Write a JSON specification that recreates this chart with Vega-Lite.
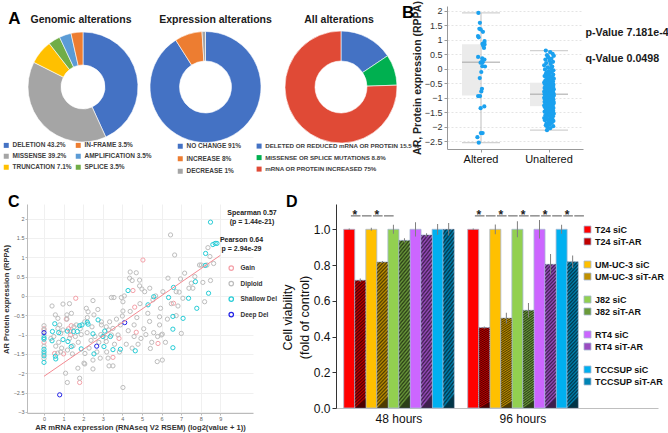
{
  "$schema": "https://vega.github.io/schema/vega-lite/v6.json",
  "padding": {"left": 2, "top": 0, "right": 0, "bottom": 0},
  "background": "white",
  "config": {
    "font": "Liberation Sans",
    "view": {"stroke": null},
    "legend": {"padding": 0},
    "title": {"color": "#1A1A1A"}
  },
  "title": {"text": "A", "anchor": "start", "frame": "bounds", "offset": 0, "baseline": "alphabetic", "dy": 40, "dx": 6, "fontSize": 17, "fontWeight": "bold", "color": "#000000"},
  "datasets": {
    "genomic": [
      {"label": "DELETION 43.2%", "pct": 43.2, "ord": 1},
      {"label": "MISSENSE 39.2%", "pct": 39.2, "ord": 2},
      {"label": "TRUNCATION 7.1%", "pct": 7.1, "ord": 3},
      {"label": "SPLICE 3.5%", "pct": 3.5, "ord": 4},
      {"label": "AMPLIFICATION 3.5%", "pct": 3.5, "ord": 5},
      {"label": "IN-FRAME 3.5%", "pct": 3.5, "ord": 6}
    ],
    "expr": [
      {"label": "NO CHANGE 91%", "pct": 91, "ord": 1},
      {"label": "INCREASE 8%", "pct": 8, "ord": 2},
      {"label": "DECREASE 1%", "pct": 1, "ord": 3}
    ],
    "allalt": [
      {"label": "DELETED OR REDUCED mRNA OR PROTEIN 15.5 %", "pct": 15.5, "ord": 1},
      {"label": "MISSENSE OR SPLICE MUTATIONS 8.8%", "pct": 8.8, "ord": 2},
      {"label": "mRNA OR PROTEIN INCREASED 75%", "pct": 75, "ord": 3}
    ],
    "bbox": [
      {"g": "Altered", "q1": -0.92, "q3": 0.85, "med": 0.23, "lo": -2.55, "hi": 1.93},
      {"g": "Unaltered", "q1": -1.29, "q3": -0.48, "med": -0.88, "lo": -2.12, "hi": 0.63}
    ],
    "bpts": [
      {"g":"Altered","v":1.93,"j":-0.65},{"g":"Altered","v":1.59,"j":-0.28},{"g":"Altered","v":1.38,"j":-0.41},{"g":"Altered","v":1.36,"j":-0.07},{"g":"Altered","v":1.28,"j":0.48},{"g":"Altered","v":1.13,"j":-0.75},{"g":"Altered","v":1.09,"j":-0.58},{"g":"Altered","v":0.96,"j":0.89},{"g":"Altered","v":0.9,"j":0.82},{"g":"Altered","v":0.86,"j":0.38},{"g":"Altered","v":0.84,"j":0.89},{"g":"Altered","v":0.8,"j":0.55},{"g":"Altered","v":0.72,"j":0.75},{"g":"Altered","v":0.41,"j":-0.72},{"g":"Altered","v":0.36,"j":0.31},{"g":"Altered","v":0.32,"j":0.86},{"g":"Altered","v":0.23,"j":0.14},{"g":"Altered","v":0.23,"j":0.41},{"g":"Altered","v":0.21,"j":-0.1},{"g":"Altered","v":0.08,"j":1.0},{"g":"Altered","v":0.09,"j":0.34},{"g":"Altered","v":-0.11,"j":0.07},{"g":"Altered","v":-0.32,"j":-0.31},{"g":"Altered","v":-0.69,"j":0.24},{"g":"Altered","v":-0.78,"j":0.07},{"g":"Altered","v":-0.94,"j":-0.72},{"g":"Altered","v":-0.94,"j":-0.24},{"g":"Altered","v":-1.3,"j":0.82},{"g":"Altered","v":-1.36,"j":-0.1},{"g":"Altered","v":-2.22,"j":-0.03},{"g":"Altered","v":-2.22,"j":0.41},{"g":"Altered","v":-2.36,"j":-0.9},{"g":"Altered","v":-2.55,"j":-0.55},
      {"g":"Unaltered","v":0.63,"j":-0.8},{"g":"Unaltered","v":0.58,"j":0.3},{"g":"Unaltered","v":0.52,"j":0.9},{"g":"Unaltered","v":0.47,"j":-0.5},{"g":"Unaltered","v":0.45,"j":1.2},{"g":"Unaltered","v":0.4,"j":-0.2},{"g":"Unaltered","v":0.35,"j":0.6},{"g":"Unaltered","v":0.32,"j":-0.9},{"g":"Unaltered","v":0.28,"j":0.1},{"g":"Unaltered","v":0.24,"j":1.0},{"g":"Unaltered","v":0.2,"j":-0.7},{"g":"Unaltered","v":0.17,"j":0.4},{"g":"Unaltered","v":0.12,"j":-1.2},{"g":"Unaltered","v":0.08,"j":0.8},{"g":"Unaltered","v":0.05,"j":-0.3},{"g":"Unaltered","v":0.02,"j":0.5},{"g":"Unaltered","v":-0.02,"j":-1.0},{"g":"Unaltered","v":-0.05,"j":1.1},{"g":"Unaltered","v":-0.08,"j":-0.1},{"g":"Unaltered","v":-0.1,"j":0.7},{"g":"Unaltered","v":-0.13,"j":-0.6},{"g":"Unaltered","v":-0.15,"j":0.2},{"g":"Unaltered","v":-0.18,"j":-0.8},{"g":"Unaltered","v":-0.2,"j":1.05},{"g":"Unaltered","v":-0.22,"j":-0.4},
      {"g":"Unaltered","v":-0.25,"j":-1.1},{"g":"Unaltered","v":-0.27,"j":0.3},{"g":"Unaltered","v":-0.3,"j":0.9},{"g":"Unaltered","v":-0.32,"j":-0.5},{"g":"Unaltered","v":-0.34,"j":1.2},{"g":"Unaltered","v":-0.36,"j":-0.2},{"g":"Unaltered","v":-0.38,"j":0.6},{"g":"Unaltered","v":-0.4,"j":-0.9},{"g":"Unaltered","v":-0.42,"j":0.1},{"g":"Unaltered","v":-0.44,"j":1.0},{"g":"Unaltered","v":-0.45,"j":-0.7},{"g":"Unaltered","v":-0.46,"j":0.4},{"g":"Unaltered","v":-0.47,"j":-1.2},{"g":"Unaltered","v":-0.49,"j":0.8},{"g":"Unaltered","v":-0.5,"j":-0.3},{"g":"Unaltered","v":-0.52,"j":0.5},{"g":"Unaltered","v":-0.53,"j":-1.0},{"g":"Unaltered","v":-0.55,"j":1.1},{"g":"Unaltered","v":-0.56,"j":-0.1},{"g":"Unaltered","v":-0.58,"j":0.7},{"g":"Unaltered","v":-0.59,"j":-0.6},{"g":"Unaltered","v":-0.6,"j":0.2},{"g":"Unaltered","v":-0.62,"j":-0.8},{"g":"Unaltered","v":-0.63,"j":1.05},{"g":"Unaltered","v":-0.64,"j":-0.4},
      {"g":"Unaltered","v":-0.66,"j":-1.1},{"g":"Unaltered","v":-0.67,"j":0.3},{"g":"Unaltered","v":-0.68,"j":0.9},{"g":"Unaltered","v":-0.7,"j":-0.5},{"g":"Unaltered","v":-0.71,"j":1.2},{"g":"Unaltered","v":-0.72,"j":-0.2},{"g":"Unaltered","v":-0.73,"j":0.6},{"g":"Unaltered","v":-0.74,"j":-0.9},{"g":"Unaltered","v":-0.75,"j":0.1},{"g":"Unaltered","v":-0.76,"j":1.0},{"g":"Unaltered","v":-0.77,"j":-0.7},{"g":"Unaltered","v":-0.78,"j":0.4},{"g":"Unaltered","v":-0.79,"j":-1.2},{"g":"Unaltered","v":-0.8,"j":0.8},{"g":"Unaltered","v":-0.81,"j":-0.3},{"g":"Unaltered","v":-0.82,"j":0.5},{"g":"Unaltered","v":-0.83,"j":-1.0},{"g":"Unaltered","v":-0.84,"j":1.1},{"g":"Unaltered","v":-0.85,"j":-0.1},{"g":"Unaltered","v":-0.85,"j":0.7},{"g":"Unaltered","v":-0.86,"j":-0.6},{"g":"Unaltered","v":-0.86,"j":0.2},{"g":"Unaltered","v":-0.87,"j":-0.8},{"g":"Unaltered","v":-0.87,"j":1.05},{"g":"Unaltered","v":-0.88,"j":-0.4},
      {"g":"Unaltered","v":-0.88,"j":-1.1},{"g":"Unaltered","v":-0.89,"j":0.3},{"g":"Unaltered","v":-0.9,"j":0.9},{"g":"Unaltered","v":-0.91,"j":-0.5},{"g":"Unaltered","v":-0.92,"j":1.2},{"g":"Unaltered","v":-0.93,"j":-0.2},{"g":"Unaltered","v":-0.94,"j":0.6},{"g":"Unaltered","v":-0.95,"j":-0.9},{"g":"Unaltered","v":-0.96,"j":0.1},{"g":"Unaltered","v":-0.97,"j":1.0},{"g":"Unaltered","v":-0.98,"j":-0.7},{"g":"Unaltered","v":-0.99,"j":0.4},{"g":"Unaltered","v":-1.0,"j":-1.2},{"g":"Unaltered","v":-1.01,"j":0.8},{"g":"Unaltered","v":-1.02,"j":-0.3},{"g":"Unaltered","v":-1.03,"j":0.5},{"g":"Unaltered","v":-1.05,"j":-1.0},{"g":"Unaltered","v":-1.06,"j":1.1},{"g":"Unaltered","v":-1.07,"j":-0.1},{"g":"Unaltered","v":-1.08,"j":0.7},{"g":"Unaltered","v":-1.09,"j":-0.6},{"g":"Unaltered","v":-1.1,"j":0.2},{"g":"Unaltered","v":-1.11,"j":-0.8},{"g":"Unaltered","v":-1.12,"j":1.05},{"g":"Unaltered","v":-1.13,"j":-0.4},
      {"g":"Unaltered","v":-1.14,"j":-1.1},{"g":"Unaltered","v":-1.15,"j":0.3},{"g":"Unaltered","v":-1.16,"j":0.9},{"g":"Unaltered","v":-1.17,"j":-0.5},{"g":"Unaltered","v":-1.18,"j":1.2},{"g":"Unaltered","v":-1.19,"j":-0.2},{"g":"Unaltered","v":-1.2,"j":0.6},{"g":"Unaltered","v":-1.21,"j":-0.9},{"g":"Unaltered","v":-1.22,"j":0.1},{"g":"Unaltered","v":-1.23,"j":1.0},{"g":"Unaltered","v":-1.24,"j":-0.7},{"g":"Unaltered","v":-1.25,"j":0.4},{"g":"Unaltered","v":-1.27,"j":-1.2},{"g":"Unaltered","v":-1.28,"j":0.8},{"g":"Unaltered","v":-1.3,"j":-0.3},{"g":"Unaltered","v":-1.32,"j":0.5},{"g":"Unaltered","v":-1.33,"j":-1.0},{"g":"Unaltered","v":-1.35,"j":1.1},{"g":"Unaltered","v":-1.36,"j":-0.1},{"g":"Unaltered","v":-1.38,"j":0.7},{"g":"Unaltered","v":-1.4,"j":-0.6},{"g":"Unaltered","v":-1.41,"j":0.2},{"g":"Unaltered","v":-1.43,"j":-0.8},{"g":"Unaltered","v":-1.45,"j":1.05},{"g":"Unaltered","v":-1.46,"j":-0.4},
      {"g":"Unaltered","v":-1.48,"j":-1.1},{"g":"Unaltered","v":-1.5,"j":0.3},{"g":"Unaltered","v":-1.52,"j":0.9},{"g":"Unaltered","v":-1.53,"j":-0.5},{"g":"Unaltered","v":-1.55,"j":1.2},{"g":"Unaltered","v":-1.57,"j":-0.2},{"g":"Unaltered","v":-1.58,"j":0.6},{"g":"Unaltered","v":-1.6,"j":-0.9},{"g":"Unaltered","v":-1.62,"j":0.1},{"g":"Unaltered","v":-1.64,"j":1.0},{"g":"Unaltered","v":-1.66,"j":-0.7},{"g":"Unaltered","v":-1.68,"j":0.4},{"g":"Unaltered","v":-1.7,"j":-1.2},{"g":"Unaltered","v":-1.72,"j":0.8},{"g":"Unaltered","v":-1.74,"j":-0.3},{"g":"Unaltered","v":-1.76,"j":0.5},{"g":"Unaltered","v":-1.78,"j":-1.0},{"g":"Unaltered","v":-1.8,"j":1.1},{"g":"Unaltered","v":-1.83,"j":-0.1},{"g":"Unaltered","v":-1.86,"j":0.7},{"g":"Unaltered","v":-1.89,"j":-0.6},{"g":"Unaltered","v":-1.92,"j":0.2},{"g":"Unaltered","v":-1.95,"j":-0.8},{"g":"Unaltered","v":-1.98,"j":1.05},{"g":"Unaltered","v":-2.01,"j":-0.4},{"g":"Unaltered","v":-2.05,"j":0.3},{"g":"Unaltered","v":-2.12,"j":-0.5}
    ],
    "scatter": [
      {"x":0,"y":-0.85,"c":"Gain"},{"x":0,"y":-1.2,"c":"Gain"},{"x":1.62,"y":-0.06,"c":"Gain"},{"x":1.39,"y":-0.77,"c":"Gain"},{"x":1.36,"y":-1.01,"c":"Gain"},{"x":1.34,"y":-0.91,"c":"Gain"},{"x":0.54,"y":-1.49,"c":"Gain"},{"x":1.14,"y":-0.6,"c":"Gain"},{"x":1.0,"y":-1.5,"c":"Gain"},{"x":1.82,"y":-2.24,"c":"Gain"},{"x":3.83,"y":-1.1,"c":"Gain"},{"x":3.52,"y":-1.59,"c":"Gain"},{"x":4.54,"y":0.14,"c":"Gain"},{"x":4.63,"y":-0.29,"c":"Gain"},{"x":4.71,"y":-0.94,"c":"Gain"},{"x":5.05,"y":0.93,"c":"Gain"},{"x":5.82,"y":-1.23,"c":"Gain"},{"x":6.61,"y":-0.19,"c":"Gain"},{"x":1.25,"y":-0.85,"c":"Gain"},
      {"x":0,"y":-0.77,"c":"Diploid"},{"x":0,"y":-0.88,"c":"Diploid"},{"x":0,"y":-1.02,"c":"Diploid"},{"x":0,"y":-1.3,"c":"Diploid"},{"x":0,"y":-1.5,"c":"Diploid"},{"x":0,"y":-1.62,"c":"Diploid"},
      {"x":0.41,"y":-0.26,"c":"Diploid"},{"x":0.58,"y":-0.49,"c":"Diploid"},{"x":0.71,"y":-0.58,"c":"Diploid"},{"x":0.71,"y":-0.84,"c":"Diploid"},{"x":0.85,"y":-0.97,"c":"Diploid"},{"x":0.97,"y":-0.88,"c":"Diploid"},{"x":0.97,"y":-0.21,"c":"Diploid"},{"x":0.5,"y":-1.05,"c":"Diploid"},{"x":0.6,"y":-1.3,"c":"Diploid"},{"x":0.75,"y":-1.2,"c":"Diploid"},{"x":0.85,"y":-1.45,"c":"Diploid"},{"x":0.9,"y":-1.35,"c":"Diploid"},{"x":0.7,"y":-1.48,"c":"Diploid"},{"x":0.35,"y":-1.1,"c":"Diploid"},{"x":0.8,"y":-0.75,"c":"Diploid"},
      {"x":1.17,"y":-0.49,"c":"Diploid"},{"x":1.17,"y":-0.6,"c":"Diploid"},{"x":1.53,"y":-0.8,"c":"Diploid"},{"x":1.65,"y":-0.75,"c":"Diploid"},{"x":1.1,"y":-2.0,"c":"Diploid"},{"x":1.19,"y":-2.24,"c":"Diploid"},{"x":1.82,"y":-2.13,"c":"Diploid"},{"x":1.73,"y":-1.87,"c":"Diploid"},{"x":2.04,"y":-1.74,"c":"Diploid"},{"x":2.09,"y":-1.49,"c":"Diploid"},{"x":1.48,"y":-1.29,"c":"Diploid"},{"x":1.3,"y":-1.1,"c":"Diploid"},{"x":1.6,"y":-1.05,"c":"Diploid"},{"x":1.45,"y":-1.5,"c":"Diploid"},{"x":1.2,"y":-1.4,"c":"Diploid"},{"x":1.75,"y":-1.2,"c":"Diploid"},{"x":1.9,"y":-1.0,"c":"Diploid"},{"x":1.85,"y":-0.85,"c":"Diploid"},{"x":1.4,"y":-0.45,"c":"Diploid"},{"x":1.3,"y":-0.2,"c":"Diploid"},
      {"x":2.16,"y":-0.32,"c":"Diploid"},{"x":2.25,"y":-0.41,"c":"Diploid"},{"x":2.21,"y":-0.56,"c":"Diploid"},{"x":2.08,"y":-0.67,"c":"Diploid"},{"x":2.5,"y":-0.12,"c":"Diploid"},{"x":2.55,"y":-0.49,"c":"Diploid"},{"x":2.5,"y":-1.89,"c":"Diploid"},{"x":2.5,"y":-1.66,"c":"Diploid"},{"x":2.08,"y":-1.76,"c":"Diploid"},{"x":2.93,"y":-0.67,"c":"Diploid"},{"x":2.93,"y":-0.75,"c":"Diploid"},{"x":2.4,"y":-1.15,"c":"Diploid"},{"x":2.6,"y":-1.05,"c":"Diploid"},{"x":2.87,"y":-1.61,"c":"Diploid"},{"x":2.7,"y":-1.45,"c":"Diploid"},{"x":2.8,"y":-1.2,"c":"Diploid"},{"x":2.3,"y":-1.35,"c":"Diploid"},{"x":2.45,"y":-0.8,"c":"Diploid"},{"x":2.75,"y":-0.35,"c":"Diploid"},{"x":2.9,"y":-1.0,"c":"Diploid"},{"x":2.2,"y":-0.95,"c":"Diploid"},
      {"x":3.18,"y":-0.8,"c":"Diploid"},{"x":3.35,"y":-0.67,"c":"Diploid"},{"x":3.3,"y":-0.88,"c":"Diploid"},{"x":3.15,"y":-1.08,"c":"Diploid"},{"x":3.44,"y":-1.01,"c":"Diploid"},{"x":3.18,"y":-1.18,"c":"Diploid"},{"x":3.44,"y":-0.04,"c":"Diploid"},{"x":3.57,"y":-0.04,"c":"Diploid"},{"x":3.52,"y":-0.84,"c":"Diploid"},{"x":3.32,"y":-1.81,"c":"Diploid"},{"x":3.52,"y":-1.81,"c":"Diploid"},{"x":3.27,"y":-1.61,"c":"Diploid"},{"x":3.78,"y":-1.01,"c":"Diploid"},{"x":3.95,"y":-0.04,"c":"Diploid"},{"x":4.03,"y":-0.15,"c":"Diploid"},{"x":4.03,"y":-0.39,"c":"Diploid"},{"x":4.0,"y":-0.52,"c":"Diploid"},{"x":3.7,"y":-0.6,"c":"Diploid"},{"x":3.85,"y":-1.45,"c":"Diploid"},{"x":3.6,"y":-1.25,"c":"Diploid"},{"x":3.2,"y":-1.45,"c":"Diploid"},{"x":3.9,"y":-0.75,"c":"Diploid"},
      {"x":4.03,"y":-2.37,"c":"Diploid"},{"x":4.37,"y":0.46,"c":"Diploid"},{"x":4.5,"y":0.4,"c":"Diploid"},{"x":4.71,"y":0.6,"c":"Diploid"},{"x":4.4,"y":0.62,"c":"Diploid"},{"x":4.88,"y":0.41,"c":"Diploid"},{"x":4.88,"y":0.26,"c":"Diploid"},{"x":5.0,"y":0.18,"c":"Diploid"},{"x":4.74,"y":-0.56,"c":"Diploid"},{"x":4.4,"y":-0.4,"c":"Diploid"},{"x":4.95,"y":-1.1,"c":"Diploid"},{"x":5.09,"y":-0.85,"c":"Diploid"},{"x":4.8,"y":-1.25,"c":"Diploid"},{"x":4.6,"y":-1.05,"c":"Diploid"},{"x":4.5,"y":-1.35,"c":"Diploid"},{"x":4.3,"y":-0.9,"c":"Diploid"},{"x":4.2,"y":-1.25,"c":"Diploid"},{"x":4.1,"y":0.0,"c":"Diploid"},{"x":4.6,"y":-0.75,"c":"Diploid"},{"x":4.9,"y":-0.2,"c":"Diploid"},
      {"x":5.14,"y":0.11,"c":"Diploid"},{"x":5.39,"y":-0.66,"c":"Diploid"},{"x":5.43,"y":-1.36,"c":"Diploid"},{"x":5.56,"y":-0.1,"c":"Diploid"},{"x":5.3,"y":-0.45,"c":"Diploid"},{"x":5.95,"y":-0.32,"c":"Diploid"},{"x":5.9,"y":-0.54,"c":"Diploid"},{"x":6.04,"y":-0.99,"c":"Diploid"},{"x":5.9,"y":-0.75,"c":"Diploid"},{"x":5.99,"y":-1.01,"c":"Diploid"},{"x":5.78,"y":-1.7,"c":"Diploid"},{"x":6.04,"y":-1.66,"c":"Diploid"},{"x":5.8,"y":-1.05,"c":"Diploid"},{"x":5.6,"y":-0.95,"c":"Diploid"},{"x":5.5,"y":-1.2,"c":"Diploid"},{"x":6.07,"y":0.11,"c":"Diploid"},{"x":5.4,"y":0.2,"c":"Diploid"},{"x":5.7,"y":0.0,"c":"Diploid"},{"x":5.2,"y":-1.0,"c":"Diploid"},
      {"x":6.46,"y":1.58,"c":"Diploid"},{"x":6.67,"y":1.06,"c":"Diploid"},{"x":6.75,"y":0.11,"c":"Diploid"},{"x":6.97,"y":0.44,"c":"Diploid"},{"x":7.18,"y":0.59,"c":"Diploid"},{"x":6.33,"y":0.46,"c":"Diploid"},{"x":7.09,"y":-0.06,"c":"Diploid"},{"x":6.84,"y":-0.26,"c":"Diploid"},{"x":6.75,"y":-0.51,"c":"Diploid"},{"x":7.01,"y":-0.97,"c":"Diploid"},{"x":6.3,"y":-0.6,"c":"Diploid"},{"x":6.5,"y":-0.2,"c":"Diploid"},{"x":6.2,"y":-1.2,"c":"Diploid"},
      {"x":7.52,"y":0.33,"c":"Diploid"},{"x":7.6,"y":0.2,"c":"Diploid"},{"x":7.94,"y":0.8,"c":"Diploid"},{"x":8.11,"y":0.35,"c":"Diploid"},{"x":8.2,"y":-0.15,"c":"Diploid"},{"x":8.32,"y":0.8,"c":"Diploid"},{"x":8.37,"y":1.25,"c":"Diploid"},{"x":8.47,"y":1.02,"c":"Diploid"},{"x":8.66,"y":0.84,"c":"Diploid"},{"x":8.03,"y":0.8,"c":"Diploid"},{"x":7.7,"y":0.5,"c":"Diploid"},{"x":8.5,"y":0.4,"c":"Diploid"},{"x":7.4,"y":0.2,"c":"Diploid"},{"x":6.9,"y":0.1,"c":"Diploid"},
      {"x":0,"y":-1.08,"c":"Shallow Del"},{"x":0,"y":-1.12,"c":"Shallow Del"},{"x":0,"y":-1.38,"c":"Shallow Del"},{"x":0,"y":-1.45,"c":"Shallow Del"},{"x":0,"y":-1.55,"c":"Shallow Del"},{"x":0,"y":-1.72,"c":"Shallow Del"},{"x":0.43,"y":-0.92,"c":"Shallow Del"},{"x":0.55,"y":-0.72,"c":"Shallow Del"},{"x":0.41,"y":-1.16,"c":"Shallow Del"},{"x":0.58,"y":-1.56,"c":"Shallow Del"},{"x":0.6,"y":-1.63,"c":"Shallow Del"},{"x":0.97,"y":-1.13,"c":"Shallow Del"},{"x":1.22,"y":-1.18,"c":"Shallow Del"},{"x":1.39,"y":-1.31,"c":"Shallow Del"},{"x":1.19,"y":-0.91,"c":"Shallow Del"},{"x":1.51,"y":-0.92,"c":"Shallow Del"},{"x":1.7,"y":-0.92,"c":"Shallow Del"},{"x":1.82,"y":-0.77,"c":"Shallow Del"},{"x":1.94,"y":-0.75,"c":"Shallow Del"},{"x":2.25,"y":-0.73,"c":"Shallow Del"},{"x":2.21,"y":-0.68,"c":"Shallow Del"},{"x":2.5,"y":-0.98,"c":"Shallow Del"},{"x":2.76,"y":-0.62,"c":"Shallow Del"},{"x":1.9,"y":-1.37,"c":"Shallow Del"},{"x":2.55,"y":-1.5,"c":"Shallow Del"},{"x":3.01,"y":-1.05,"c":"Shallow Del"},
      {"x":3.06,"y":-1.31,"c":"Shallow Del"},{"x":3.39,"y":-1.05,"c":"Shallow Del"},{"x":3.1,"y":-0.91,"c":"Shallow Del"},{"x":3.52,"y":-1.39,"c":"Shallow Del"},{"x":3.9,"y":-1.38,"c":"Shallow Del"},{"x":4.66,"y":-1.42,"c":"Shallow Del"},{"x":4.29,"y":0.14,"c":"Shallow Del"},{"x":5.31,"y":-0.23,"c":"Shallow Del"},{"x":5.6,"y":-0.02,"c":"Shallow Del"},{"x":6.36,"y":-0.04,"c":"Shallow Del"},{"x":6.61,"y":0.22,"c":"Shallow Del"},{"x":6.58,"y":-0.53,"c":"Shallow Del"},{"x":6.58,"y":-0.86,"c":"Shallow Del"},{"x":6.58,"y":-1.34,"c":"Shallow Del"},{"x":7.1,"y":-0.58,"c":"Shallow Del"},{"x":7.38,"y":-0.06,"c":"Shallow Del"},{"x":7.73,"y":0.37,"c":"Shallow Del"},{"x":7.8,"y":-0.32,"c":"Shallow Del"},{"x":8.23,"y":0.79,"c":"Shallow Del"},{"x":8.4,"y":0.07,"c":"Shallow Del"},{"x":8.25,"y":1.1,"c":"Shallow Del"},{"x":8.5,"y":1.91,"c":"Shallow Del"},{"x":8.62,"y":1.33,"c":"Shallow Del"},{"x":8.74,"y":1.36,"c":"Shallow Del"},{"x":8.83,"y":1.36,"c":"Shallow Del"},{"x":0.75,"y":-0.95,"c":"Shallow Del"},
      {"x":0,"y":-0.95,"c":"Deep Del"},{"x":0.8,"y":-2.56,"c":"Deep Del"},{"x":2.69,"y":-1.3,"c":"Deep Del"},{"x":4.12,"y":-0.69,"c":"Deep Del"}
    ],
    "fit": [{"x": 0, "y": -2.08}, {"x": 9, "y": 1.05}],
    "bars": [
      {"time":"48 hours","cell":"T24","treat":"siC","cond":"T24 siC","v":1.0,"lo":0.996,"hi":1.004},
      {"time":"48 hours","cell":"T24","treat":"siT-AR","cond":"T24 siT-AR","v":0.715,"lo":0.705,"hi":0.725},
      {"time":"48 hours","cell":"UM-UC-3","treat":"siC","cond":"UM-UC-3 siC","v":1.0,"lo":0.992,"hi":1.008},
      {"time":"48 hours","cell":"UM-UC-3","treat":"siT-AR","cond":"UM-UC-3 siT-AR","v":0.817,"lo":0.811,"hi":0.823},
      {"time":"48 hours","cell":"J82","treat":"siC","cond":"J82 siC","v":1.0,"lo":0.975,"hi":1.025},
      {"time":"48 hours","cell":"J82","treat":"siT-AR","cond":"J82 siT-AR","v":0.938,"lo":0.926,"hi":0.95},
      {"time":"48 hours","cell":"RT4","treat":"siC","cond":"RT4 siC","v":1.0,"lo":0.96,"hi":1.04},
      {"time":"48 hours","cell":"RT4","treat":"siT-AR","cond":"RT4 siT-AR","v":0.968,"lo":0.958,"hi":0.978},
      {"time":"48 hours","cell":"TCCSUP","treat":"siC","cond":"TCCSUP siC","v":1.0,"lo":0.97,"hi":1.03},
      {"time":"48 hours","cell":"TCCSUP","treat":"siT-AR","cond":"TCCSUP siT-AR","v":1.0,"lo":0.965,"hi":1.035},
      {"time":"96 hours","cell":"T24","treat":"siC","cond":"T24 siC","v":1.0,"lo":0.996,"hi":1.004},
      {"time":"96 hours","cell":"T24","treat":"siT-AR","cond":"T24 siT-AR","v":0.45,"lo":0.444,"hi":0.456},
      {"time":"96 hours","cell":"UM-UC-3","treat":"siC","cond":"UM-UC-3 siC","v":1.0,"lo":0.973,"hi":1.027},
      {"time":"96 hours","cell":"UM-UC-3","treat":"siT-AR","cond":"UM-UC-3 siT-AR","v":0.503,"lo":0.473,"hi":0.533},
      {"time":"96 hours","cell":"J82","treat":"siC","cond":"J82 siC","v":1.0,"lo":0.955,"hi":1.045},
      {"time":"96 hours","cell":"J82","treat":"siT-AR","cond":"J82 siT-AR","v":0.547,"lo":0.507,"hi":0.587},
      {"time":"96 hours","cell":"RT4","treat":"siC","cond":"RT4 siC","v":1.0,"lo":0.948,"hi":1.052},
      {"time":"96 hours","cell":"RT4","treat":"siT-AR","cond":"RT4 siT-AR","v":0.804,"lo":0.746,"hi":0.862},
      {"time":"96 hours","cell":"TCCSUP","treat":"siC","cond":"TCCSUP siC","v":1.0,"lo":0.975,"hi":1.025},
      {"time":"96 hours","cell":"TCCSUP","treat":"siT-AR","cond":"TCCSUP siT-AR","v":0.818,"lo":0.783,"hi":0.853}
    ],
    "sigline": [
      {"time":"48 hours","cond":"T24 siC"},{"time":"48 hours","cond":"T24 siT-AR"},
      {"time":"48 hours","cond":"UM-UC-3 siC"},{"time":"48 hours","cond":"UM-UC-3 siT-AR"},
      {"time":"96 hours","cond":"T24 siC"},{"time":"96 hours","cond":"T24 siT-AR"},
      {"time":"96 hours","cond":"UM-UC-3 siC"},{"time":"96 hours","cond":"UM-UC-3 siT-AR"},
      {"time":"96 hours","cond":"J82 siC"},{"time":"96 hours","cond":"J82 siT-AR"},
      {"time":"96 hours","cond":"RT4 siC"},{"time":"96 hours","cond":"RT4 siT-AR"},
      {"time":"96 hours","cond":"TCCSUP siC"},{"time":"96 hours","cond":"TCCSUP siT-AR"}
    ],
    "sigstar": [
      {"time":"48 hours","cond":"T24 siT-AR"},{"time":"48 hours","cond":"UM-UC-3 siT-AR"},
      {"time":"96 hours","cond":"T24 siT-AR"},{"time":"96 hours","cond":"UM-UC-3 siT-AR"},{"time":"96 hours","cond":"J82 siT-AR"},{"time":"96 hours","cond":"RT4 siT-AR"},{"time":"96 hours","cond":"TCCSUP siT-AR"}
    ]
  },
  "vconcat": [
    {
      "hconcat": [
        {
          "width": 112, "height": 162,
          "title": {"text": "Genomic alterations", "fontSize": 10.5, "fontWeight": "bold", "baseline": "alphabetic", "dy": 27, "dx": -2, "offset": 0},
          "data": {"name": "genomic"},
          "mark": {"type": "arc", "radius": 55, "innerRadius": 22, "stroke": "white", "strokeWidth": 0.6},
          "encoding": {
            "theta": {"field": "pct", "type": "quantitative"},
            "order": {"field": "ord", "type": "quantitative"},
            "color": {"field": "label", "type": "nominal",
              "scale": {"domain": ["DELETION 43.2%", "MISSENSE 39.2%", "TRUNCATION 7.1%", "IN-FRAME 3.5%", "AMPLIFICATION 3.5%", "SPLICE 3.5%"], "range": ["#4472C4", "#A5A5A5", "#FFC000", "#ED7D31", "#5B9BD5", "#70AD47"]},
              "legend": {"orient": "none", "legendX": -24, "legendY": 136, "columns": 2, "title": null, "symbolType": "square", "symbolSize": 25, "symbolStrokeWidth": 0, "labelFontSize": 6.5, "labelFontWeight": "bold", "labelColor": "#404040", "rowPadding": 4, "columnPadding": 3, "labelOffset": 3, "labelLimit": 300}}
          }
        },
        {
          "width": 59, "height": 162,
          "title": {"text": "Expression alterations", "fontSize": 10.5, "fontWeight": "bold", "baseline": "alphabetic", "dy": 27, "dx": 10, "offset": 0},
          "data": {"name": "expr"},
          "mark": {"type": "arc", "radius": 55.5, "innerRadius": 26, "stroke": "white", "strokeWidth": 0.6},
          "encoding": {
            "theta": {"field": "pct", "type": "quantitative"},
            "order": {"field": "ord", "type": "quantitative"},
            "color": {"field": "label", "type": "nominal",
              "scale": {"domain": ["NO CHANGE 91%", "INCREASE 8%", "DECREASE 1%"], "range": ["#4472C4", "#ED7D31", "#A5A5A5"]},
              "legend": {"orient": "none", "legendX": 1, "legendY": 137, "title": null, "symbolType": "square", "symbolSize": 25, "symbolStrokeWidth": 0, "labelFontSize": 6.5, "labelFontWeight": "bold", "labelColor": "#404040", "rowPadding": 5.5, "labelOffset": 3, "labelLimit": 300}}
          }
        },
        {
          "width": 138, "height": 162,
          "title": {"text": "All alterations", "fontSize": 10.5, "fontWeight": "bold", "baseline": "alphabetic", "dy": 27, "dx": -2, "offset": 0},
          "data": {"name": "allalt"},
          "mark": {"type": "arc", "radius": 56, "innerRadius": 26, "stroke": "white", "strokeWidth": 0.6},
          "encoding": {
            "theta": {"field": "pct", "type": "quantitative"},
            "order": {"field": "ord", "type": "quantitative"},
            "color": {"field": "label", "type": "nominal",
              "scale": {"domain": ["DELETED OR REDUCED mRNA OR PROTEIN 15.5 %", "MISSENSE OR SPLICE MUTATIONS 8.8%", "mRNA OR PROTEIN INCREASED 75%"], "range": ["#4472C4", "#00B050", "#E04A36"]},
              "legend": {"orient": "none", "legendX": -16, "legendY": 137, "title": null, "symbolType": "square", "symbolSize": 25, "symbolStrokeWidth": 0, "labelFontSize": 6.2, "labelFontWeight": "bold", "labelColor": "#404040", "rowPadding": 4.5, "labelOffset": 3, "labelLimit": 300}}
          }
        },
        {
          "width": 136, "height": 143,
          "title": {"text": "B", "anchor": "start", "frame": "group", "dx": -45, "dy": 34.5, "offset": 0, "baseline": "alphabetic", "fontSize": 17, "fontWeight": "bold", "color": "#000000"},
          "encoding": {
            "x": {"field": "g", "type": "nominal", "scale": {"domain": ["Altered", "Unaltered"], "paddingInner": 0, "paddingOuter": 0},
              "axis": {"title": null, "labelAngle": 0, "labelFontSize": 11, "labelColor": "#111111", "tickSize": 3, "tickColor": "#999999", "domainColor": "#999999", "labelPadding": 1}}
          },
          "layer": [
            {
              "layer": [
                {
                  "data": {"name": "bbox"},
                  "mark": {"type": "bar", "width": {"band": 0.56}, "fill": "#EBEBEB"},
                  "encoding": {
                    "y": {"field": "q1", "type": "quantitative", "title": "AR, Protein expression (RPPA)",
                      "scale": {"domain": [-2.77, 2.17], "nice": false, "zero": false},
                      "axis": {"values": [-2.5, -2, -1.5, -1, -0.5, 0, 0.5, 1, 1.5, 2], "tickCount": 20, "format": "~g", "labelOverlap": false, "labelFontSize": 9, "labelColor": "#333333", "tickSize": 3, "tickColor": "#999999", "domainColor": "#999999", "grid": true, "gridColor": "#E4E4E4", "gridDash": [2, 2], "titleFontSize": 10.5, "titleFontWeight": "bold", "titleColor": "#222222", "titlePadding": 2}},
                    "y2": {"field": "q3"}
                  }
                },
                {
                  "data": {"name": "bbox"},
                  "mark": {"type": "rule", "color": "#BDBDBD", "strokeWidth": 1},
                  "encoding": {"y": {"field": "lo", "type": "quantitative", "title": "AR, Protein expression (RPPA)"}, "y2": {"field": "hi"}}
                },
                {
                  "data": {"name": "bbox"},
                  "mark": {"type": "tick", "orient": "horizontal", "size": 38, "thickness": 1.5, "color": "#A8A8A8"},
                  "encoding": {"y": {"field": "med", "type": "quantitative", "title": "AR, Protein expression (RPPA)"}}
                },
                {
                  "data": {"name": "bbox"},
                  "mark": {"type": "tick", "orient": "horizontal", "size": 38, "thickness": 1.2, "color": "#BDBDBD"},
                  "encoding": {"y": {"field": "lo", "type": "quantitative", "title": "AR, Protein expression (RPPA)"}}
                },
                {
                  "data": {"name": "bbox"},
                  "mark": {"type": "tick", "orient": "horizontal", "size": 38, "thickness": 1.2, "color": "#BDBDBD"},
                  "encoding": {"y": {"field": "hi", "type": "quantitative", "title": "AR, Protein expression (RPPA)"}}
                },
                {
                  "data": {"name": "bpts"},
                  "mark": {"type": "circle", "size": 18, "color": "#1BA1EF", "opacity": 1},
                  "encoding": {
                    "y": {"field": "v", "type": "quantitative", "title": "AR, Protein expression (RPPA)"},
                    "xOffset": {"field": "j", "type": "quantitative", "scale": {"domain": [-8.5, 8.5]}}
                  }
                }
              ]
            },
            {
              "data": {"name": "bbox"},
              "mark": {"type": "point", "opacity": 0},
              "encoding": {
                "y": {"field": "med", "type": "quantitative", "title": ["p-Value 7.181e-4", "q-Value  0.0498"],
                  "scale": {"domain": [-2.77, 2.17], "nice": false, "zero": false},
                  "axis": {"orient": "right", "labels": false, "ticks": false, "domain": false, "grid": false, "titleAngle": 0, "titleAlign": "left", "titleBaseline": "alphabetic", "titleX": 2, "titleY": 29, "titleFontSize": 10.7, "titleFontWeight": "bold", "titleColor": "#1A1A1A", "titleLineHeight": 26}}
              }
            }
          ],
          "resolve": {"scale": {"y": "independent"}}
        }
      ],
      "spacing": 37,
      "bounds": "flush",
      "resolve": {"scale": {"color": "independent"}, "legend": {"color": "independent"}}
    },
    {
      "hconcat": [
        {
          "width": 226, "height": 209,
          "title": {"text": "C", "anchor": "start", "frame": "group", "dx": -19, "dy": 19, "offset": 0, "baseline": "alphabetic", "fontSize": 16, "fontWeight": "bold", "color": "#000000"},
          "encoding": {
            "x": {"field": "x", "type": "quantitative", "title": "AR mRNA expression (RNAseq V2 RSEM) (log2(value + 1))",
              "scale": {"domain": [-0.868, 10.67], "nice": false, "zero": false},
              "axis": {"values": [0, 1, 2, 3, 4, 5, 6, 7, 8, 9], "tickCount": 20, "format": "d", "labelOverlap": false, "labelFontSize": 5.5, "labelColor": "#666666", "tickSize": 2, "tickColor": "#BBBBBB", "domainColor": "#BBBBBB", "grid": true, "gridColor": "#F0F0F0", "labelPadding": 1, "titleFontSize": 7.6, "titleFontWeight": "bold", "titleColor": "#333333", "titlePadding": 2}}
          },
          "layer": [
            {
              "layer": [
                {
                  "data": {"name": "scatter"},
                  "mark": {"type": "point", "filled": false, "size": 18, "strokeWidth": 1, "opacity": 1},
                  "encoding": {
                    "y": {"field": "y", "type": "quantitative", "title": "AR Protein expression (RPPA)",
                      "scale": {"domain": [-3.03, 2.38], "nice": false, "zero": false},
                      "axis": {"values": [-3, -2.5, -2, -1.5, -1, -0.5, 0, 0.5, 1, 1.5, 2], "tickCount": 20, "format": "~g", "labelOverlap": false, "labelFontSize": 5.5, "labelColor": "#666666", "tickSize": 2, "tickColor": "#BBBBBB", "domainColor": "#BBBBBB", "grid": true, "gridColor": "#F0F0F0", "labelPadding": 1, "titleFontSize": 7.6, "titleFontWeight": "bold", "titleColor": "#333333", "titlePadding": 3, "titleY": 95}},
                    "stroke": {"field": "c", "type": "nominal",
                      "scale": {"domain": ["Gain", "Diploid", "Shallow Del", "Deep Del"], "range": ["#F4A0A8", "#BDBDBD", "#26CCD6", "#2323E6"]},
                      "legend": {"orient": "none", "legendX": 200, "legendY": 5.3, "title": ["Spearman 0.57", "(p = 1.44e-21)"], "titleFontSize": 7, "titleFontWeight": "bold", "titleColor": "#222222", "titleLineHeight": 8.5, "titleAlign": "center", "titleAnchor": "middle", "titlePadding": 40, "labelFontSize": 6.5, "labelFontWeight": "bold", "labelColor": "#333333", "symbolSize": 20, "symbolStrokeWidth": 1.2, "rowPadding": 5.5, "labelOffset": 6}}
                  }
                },
                {
                  "data": {"name": "fit"},
                  "mark": {"type": "line", "color": "#F48A92", "strokeWidth": 1},
                  "encoding": {
                    "y": {"field": "y", "type": "quantitative", "title": "AR Protein expression (RPPA)"}
                  }
                }
              ]
            },
            {
              "data": {"name": "fit"},
              "mark": {"type": "point", "opacity": 0},
              "encoding": {
                "y": {"field": "y", "type": "quantitative", "title": ["Pearson 0.64", "p = 2.94e-29"],
                  "scale": {"domain": [-3.03, 2.38], "nice": false, "zero": false},
                  "axis": {"orient": "right", "labels": false, "ticks": false, "domain": false, "grid": false, "titleAngle": 0, "titleAlign": "center", "titleBaseline": "alphabetic", "titleX": -12, "titleY": 37.5, "titleFontSize": 7, "titleFontWeight": "bold", "titleColor": "#222222", "titleLineHeight": 8.7}}
              }
            }
          ],
          "resolve": {"scale": {"y": "independent"}}
        },
        {
          "width": 322, "height": 204,
          "title": {"text": "D", "anchor": "start", "frame": "group", "dx": -50, "dy": 19, "offset": 0, "baseline": "alphabetic", "fontSize": 16, "fontWeight": "bold", "color": "#000000"},
          "data": {"name": "bars"},
          "encoding": {
            "x": {"field": "time", "type": "nominal", "scale": {"paddingInner": 0.109, "paddingOuter": 0.353, "align": 0.088},
              "axis": {"title": null, "labelAngle": 0, "labelFontSize": 12, "labelColor": "#111111", "ticks": false, "domainColor": "#BFBFBF", "labelPadding": 5}},
            "xOffset": {"field": "cond", "type": "nominal", "scale": {"domain": ["T24 siC", "T24 siT-AR", "UM-UC-3 siC", "UM-UC-3 siT-AR", "J82 siC", "J82 siT-AR", "RT4 siC", "RT4 siT-AR", "TCCSUP siC", "TCCSUP siT-AR"], "paddingInner": 0, "paddingOuter": 0}}
          },
          "layer": [
            {
              "transform": [{"filter": "datum.treat === 'siC'"}],
              "mark": {"type": "bar", "stroke": "#A7B9D3", "strokeWidth": 0.8},
              "encoding": {
                "y": {"field": "v", "type": "quantitative", "title": ["Cell viability", "(fold of control)"],
                  "scale": {"domain": [0, 1.1416], "nice": false},
                  "axis": {"values": [0, 0.2, 0.4, 0.6, 0.8, 1.0], "tickCount": 20, "format": ".1f", "labelOverlap": false, "labelFlush": false, "labelBound": false, "labelFontSize": 12, "labelColor": "#111111", "tickSize": 4, "tickColor": "#333333", "domainColor": "#333333", "grid": false, "titleFontSize": 12.5, "titleFontWeight": "normal", "titleColor": "#111111", "titlePadding": 2, "titleLineHeight": 17, "titleY": 113}},
                "fill": {"field": "cond", "type": "nominal",
                  "scale": {"domain": ["T24 siC", "UM-UC-3 siC", "J82 siC", "RT4 siC", "TCCSUP siC"], "range": ["#FF0000", "#FFC000", "#92D050", "#CC66FF", "#00B0F0"]},
                  "legend": {"orient": "none", "legendX": 247, "legendY": 21, "title": null, "symbolType": "square", "symbolSize": 49, "symbolStrokeColor": "#A7B9D3", "symbolStrokeWidth": 0.8, "labelFontSize": 9, "labelFontWeight": "bold", "labelColor": "#111111", "rowPadding": 24, "labelOffset": 3, "labelLimit": 200}}
              }
            },
            {
              "transform": [{"filter": "datum.treat === 'siT-AR'"}],
              "mark": {"type": "bar", "stroke": "#A7B9D3", "strokeWidth": 0.8},
              "encoding": {
                "y": {"field": "v", "type": "quantitative", "title": ["Cell viability", "(fold of control)"]},
                "fill": {"field": "cond", "type": "nominal",
                  "scale": {"domain": ["T24 siT-AR", "UM-UC-3 siT-AR", "J82 siT-AR", "RT4 siT-AR", "TCCSUP siT-AR"], "range": ["#C00000", "#C09000", "#6A9A3A", "#9A4CC0", "#0084B4"]},
                  "legend": {"orient": "none", "legendX": 247, "legendY": 33, "title": null, "symbolType": "square", "symbolSize": 49, "symbolStrokeColor": "#A7B9D3", "symbolStrokeWidth": 0.8, "labelFontSize": 9, "labelFontWeight": "bold", "labelColor": "#111111", "rowPadding": 24, "labelOffset": 3, "labelLimit": 200}}
              }
            },
            {
              "transform": [{"filter": "datum.treat === 'siT-AR'"}],
              "mark": {"type": "bar", "strokeWidth": 0, "fill": {"gradient": "linear", "x1": 0, "y1": 0, "x2": 0.08, "y2": 1, "stops": [
                {"offset":0,"color":"rgba(0,0,0,0.6)"},{"offset":0.0125,"color":"rgba(0,0,0,0)"},{"offset":0.025,"color":"rgba(0,0,0,0.6)"},{"offset":0.0375,"color":"rgba(0,0,0,0)"},{"offset":0.05,"color":"rgba(0,0,0,0.6)"},{"offset":0.0625,"color":"rgba(0,0,0,0)"},{"offset":0.075,"color":"rgba(0,0,0,0.6)"},{"offset":0.0875,"color":"rgba(0,0,0,0)"},{"offset":0.1,"color":"rgba(0,0,0,0.6)"},{"offset":0.1125,"color":"rgba(0,0,0,0)"},
                {"offset":0.125,"color":"rgba(0,0,0,0.6)"},{"offset":0.1375,"color":"rgba(0,0,0,0)"},{"offset":0.15,"color":"rgba(0,0,0,0.6)"},{"offset":0.1625,"color":"rgba(0,0,0,0)"},{"offset":0.175,"color":"rgba(0,0,0,0.6)"},{"offset":0.1875,"color":"rgba(0,0,0,0)"},{"offset":0.2,"color":"rgba(0,0,0,0.6)"},{"offset":0.2125,"color":"rgba(0,0,0,0)"},{"offset":0.225,"color":"rgba(0,0,0,0.6)"},{"offset":0.2375,"color":"rgba(0,0,0,0)"},
                {"offset":0.25,"color":"rgba(0,0,0,0.6)"},{"offset":0.2625,"color":"rgba(0,0,0,0)"},{"offset":0.275,"color":"rgba(0,0,0,0.6)"},{"offset":0.2875,"color":"rgba(0,0,0,0)"},{"offset":0.3,"color":"rgba(0,0,0,0.6)"},{"offset":0.3125,"color":"rgba(0,0,0,0)"},{"offset":0.325,"color":"rgba(0,0,0,0.6)"},{"offset":0.3375,"color":"rgba(0,0,0,0)"},{"offset":0.35,"color":"rgba(0,0,0,0.6)"},{"offset":0.3625,"color":"rgba(0,0,0,0)"},
                {"offset":0.375,"color":"rgba(0,0,0,0.6)"},{"offset":0.3875,"color":"rgba(0,0,0,0)"},{"offset":0.4,"color":"rgba(0,0,0,0.6)"},{"offset":0.4125,"color":"rgba(0,0,0,0)"},{"offset":0.425,"color":"rgba(0,0,0,0.6)"},{"offset":0.4375,"color":"rgba(0,0,0,0)"},{"offset":0.45,"color":"rgba(0,0,0,0.6)"},{"offset":0.4625,"color":"rgba(0,0,0,0)"},{"offset":0.475,"color":"rgba(0,0,0,0.6)"},{"offset":0.4875,"color":"rgba(0,0,0,0)"},
                {"offset":0.5,"color":"rgba(0,0,0,0.6)"},{"offset":0.5125,"color":"rgba(0,0,0,0)"},{"offset":0.525,"color":"rgba(0,0,0,0.6)"},{"offset":0.5375,"color":"rgba(0,0,0,0)"},{"offset":0.55,"color":"rgba(0,0,0,0.6)"},{"offset":0.5625,"color":"rgba(0,0,0,0)"},{"offset":0.575,"color":"rgba(0,0,0,0.6)"},{"offset":0.5875,"color":"rgba(0,0,0,0)"},{"offset":0.6,"color":"rgba(0,0,0,0.6)"},{"offset":0.6125,"color":"rgba(0,0,0,0)"},
                {"offset":0.625,"color":"rgba(0,0,0,0.6)"},{"offset":0.6375,"color":"rgba(0,0,0,0)"},{"offset":0.65,"color":"rgba(0,0,0,0.6)"},{"offset":0.6625,"color":"rgba(0,0,0,0)"},{"offset":0.675,"color":"rgba(0,0,0,0.6)"},{"offset":0.6875,"color":"rgba(0,0,0,0)"},{"offset":0.7,"color":"rgba(0,0,0,0.6)"},{"offset":0.7125,"color":"rgba(0,0,0,0)"},{"offset":0.725,"color":"rgba(0,0,0,0.6)"},{"offset":0.7375,"color":"rgba(0,0,0,0)"},
                {"offset":0.75,"color":"rgba(0,0,0,0.6)"},{"offset":0.7625,"color":"rgba(0,0,0,0)"},{"offset":0.775,"color":"rgba(0,0,0,0.6)"},{"offset":0.7875,"color":"rgba(0,0,0,0)"},{"offset":0.8,"color":"rgba(0,0,0,0.6)"},{"offset":0.8125,"color":"rgba(0,0,0,0)"},{"offset":0.825,"color":"rgba(0,0,0,0.6)"},{"offset":0.8375,"color":"rgba(0,0,0,0)"},{"offset":0.85,"color":"rgba(0,0,0,0.6)"},{"offset":0.8625,"color":"rgba(0,0,0,0)"},
                {"offset":0.875,"color":"rgba(0,0,0,0.6)"},{"offset":0.8875,"color":"rgba(0,0,0,0)"},{"offset":0.9,"color":"rgba(0,0,0,0.6)"},{"offset":0.9125,"color":"rgba(0,0,0,0)"},{"offset":0.925,"color":"rgba(0,0,0,0.6)"},{"offset":0.9375,"color":"rgba(0,0,0,0)"},{"offset":0.95,"color":"rgba(0,0,0,0.6)"},{"offset":0.9625,"color":"rgba(0,0,0,0)"},{"offset":0.975,"color":"rgba(0,0,0,0.6)"},{"offset":0.9875,"color":"rgba(0,0,0,0)"},
                {"offset":1,"color":"rgba(0,0,0,0.6)"}
              ]}},
              "encoding": {
                "y": {"field": "v", "type": "quantitative", "title": ["Cell viability", "(fold of control)"]}
              }
            },
            {
              "mark": {"type": "bar", "width": 1, "color": "#7F7F7F"},
              "encoding": {
                "y": {"field": "lo", "type": "quantitative", "title": ["Cell viability", "(fold of control)"]},
                "y2": {"field": "hi"}
              }
            },
            {
              "data": {"name": "sigline"},
              "mark": {"type": "bar", "width": {"band": 0.87}, "color": "#404040"},
              "encoding": {
                "y": {"datum": 1.0725},
                "y2": {"datum": 1.0775}
              }
            },
            {
              "data": {"name": "sigstar"},
              "mark": {"type": "text", "text": "*", "fontSize": 12, "fontWeight": "bold", "baseline": "alphabetic", "dy": 3, "dx": -5.5, "color": "#222222"},
              "encoding": {
                "y": {"datum": 1.075}
              }
            }
          ],
          "resolve": {"scale": {"fill": "independent"}, "legend": {"fill": "independent"}}
        }
      ],
      "spacing": 83,
      "bounds": "flush",
      "resolve": {"scale": {"stroke": "independent", "fill": "independent"}, "legend": {"stroke": "independent", "fill": "independent"}}
    }
  ],
  "spacing": 19,
  "resolve": {"scale": {"color": "independent", "stroke": "independent", "fill": "independent"}, "legend": {"color": "independent", "stroke": "independent", "fill": "independent"}}
}
